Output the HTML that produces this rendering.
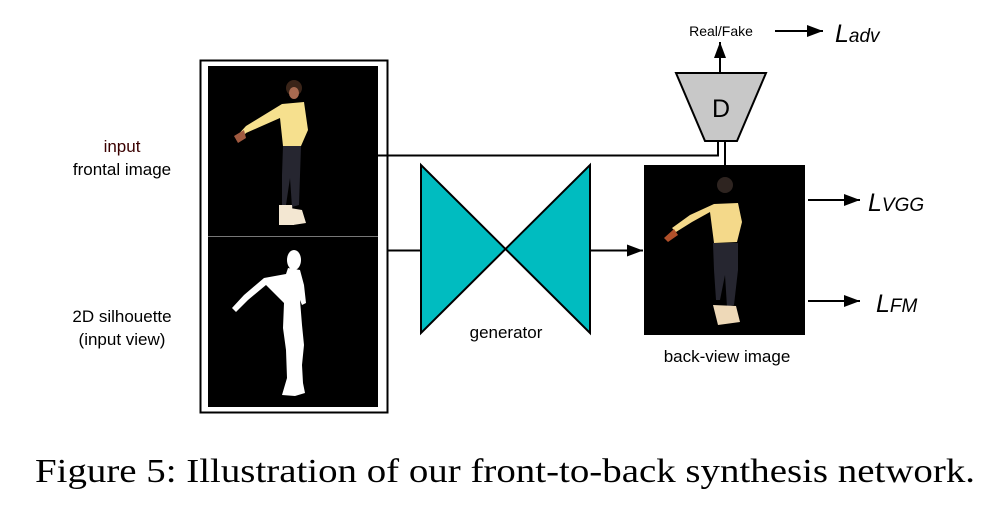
<!DOCTYPE html>
<html><head><meta charset="utf-8"><style>
html,body{margin:0;padding:0;background:#fff;width:996px;height:523px;overflow:hidden}
svg{display:block}
</style></head><body>
<svg width="996" height="523" viewBox="0 0 996 523" xmlns="http://www.w3.org/2000/svg">
<defs>
<marker id="ah" markerWidth="10" markerHeight="8" refX="10" refY="4" orient="auto" markerUnits="userSpaceOnUse">
<path d="M0,0 L10,4 L0,8 z" fill="#000"/></marker>
<marker id="ah2" markerWidth="16" markerHeight="12" refX="16" refY="6" orient="auto" markerUnits="userSpaceOnUse">
<path d="M0,0 L16,6 L0,12 z" fill="#000"/></marker>
</defs>
<!-- outer box -->
<rect x="200.5" y="60.5" width="187" height="352" fill="#fff" stroke="#000" stroke-width="2"/>
<rect x="208" y="66" width="170" height="170" fill="#000"/>
<rect x="208" y="237" width="170" height="170" fill="#000"/>
<line x1="208" y1="236.5" x2="378" y2="236.5" stroke="#777" stroke-width="1"/>
<!-- front figure -->
<g>
<circle cx="294" cy="88" r="8" fill="#3a2418"/>
<ellipse cx="294" cy="93" rx="5" ry="6" fill="#a86a50"/>
<path d="M282,104 L304,102 L308,130 L301,146 L283,146 L280,118 L246,133 L240,140 L236,137 L246,126 Z" fill="#f6e08e"/>
<path d="M234,136 L244,130 L246,138 L238,143 Z" fill="#a05a40"/>
<path d="M283,146 L301,146 L300,175 L299,205 L292,207 L290,178 L286,205 L282,205 L282,175 Z" fill="#262630"/>
<path d="M279,205 L292,205 L294,225 L279,225 Z M290,208 L302,210 L306,223 L293,225 Z" fill="#f3e7d2"/>
</g>
<!-- silhouette -->
<g fill="#fff">
<ellipse cx="294" cy="260" rx="7" ry="10"/>
<path d="M288,268 L300,270 L304,285 L306,303 L302,305 L300,300 L302,325 L304,345 L302,365 L303,383 L305,393 L295,396 L282,395 L287,378 L286,350 L283,328 L284,303 L266,285 L248,300 L236,312 L232,308 L244,295 L264,278 L286,274 Z"/>
</g>
<!-- left labels -->
<g font-family="'Liberation Sans',sans-serif" font-size="17" fill="#000" text-anchor="middle">
<text x="122" y="152" fill="#3a0000">input</text>
<text x="122" y="175">frontal image</text>
<text x="122" y="322">2D silhouette</text>
<text x="122" y="345">(input view)</text>
</g>
<!-- line from frontal to D -->
<polyline points="378,155.5 718,155.5 718,141" fill="none" stroke="#000" stroke-width="2"/>
<!-- line silhouette to generator -->
<line x1="387" y1="250.5" x2="422" y2="250.5" stroke="#000" stroke-width="2"/>
<!-- generator -->
<polygon points="421,165 421,333 590,165 590,333" fill="#00bcc0" stroke="#000" stroke-width="2" stroke-linejoin="miter"/>
<text x="506" y="338" font-family="'Liberation Sans',sans-serif" font-size="17" text-anchor="middle">generator</text>
<line x1="590" y1="250.5" x2="643" y2="250.5" stroke="#000" stroke-width="2" marker-end="url(#ah2)"/>
<!-- back-view image -->
<rect x="644" y="165" width="161" height="170" fill="#000"/>
<g>
<circle cx="725" cy="185" r="8" fill="#2e2420"/>
<path d="M714,204 L738,203 L742,222 L737,242 L714,243 L710,212 L692,222 L676,232 L672,228 L690,215 Z" fill="#f4d98a"/>
<path d="M664,238 L674,229 L678,235 L668,242 Z" fill="#b0502a"/>
<path d="M713,243 L738,243 L738,270 L734,305 L727,307 L725,275 L720,300 L716,300 L714,270 Z" fill="#262630"/>
<path d="M713,305 L736,306 L740,322 L718,325 Z" fill="#eed9b8"/>
</g>
<text x="727" y="362" font-family="'Liberation Sans',sans-serif" font-size="17" text-anchor="middle">back-view image</text>
<!-- D -->
<line x1="725" y1="141" x2="725" y2="165" stroke="#000" stroke-width="2"/>
<polygon points="676,73 766,73 737,141 705,141" fill="#c8c8c8" stroke="#000" stroke-width="2"/>
<text x="721" y="117" font-family="'Liberation Sans',sans-serif" font-size="25" text-anchor="middle">D</text>
<line x1="720" y1="73" x2="720" y2="42" stroke="#000" stroke-width="2" marker-end="url(#ah2)"/>
<text x="721" y="36" font-family="'Liberation Sans',sans-serif" font-size="14" text-anchor="middle">Real/Fake</text>
<line x1="775" y1="31" x2="823" y2="31" stroke="#000" stroke-width="2" marker-end="url(#ah2)"/>
<text x="835" y="42" font-family="'Liberation Sans',sans-serif" font-size="25" font-style="italic">L<tspan font-size="19">adv</tspan></text>
<line x1="808" y1="200" x2="860" y2="200" stroke="#000" stroke-width="2" marker-end="url(#ah2)"/>
<text x="868" y="211" font-family="'Liberation Sans',sans-serif" font-size="25" font-style="italic">L<tspan font-size="19">VGG</tspan></text>
<line x1="808" y1="301" x2="860" y2="301" stroke="#000" stroke-width="2" marker-end="url(#ah2)"/>
<text x="876" y="312" font-family="'Liberation Sans',sans-serif" font-size="25" font-style="italic">L<tspan font-size="19">FM</tspan></text>
<!-- caption -->
<text x="35" y="482" font-family="'Liberation Serif',serif" font-size="34" textLength="940" lengthAdjust="spacingAndGlyphs">Figure 5: Illustration of our front-to-back synthesis network.</text>
</svg>
</body></html>
